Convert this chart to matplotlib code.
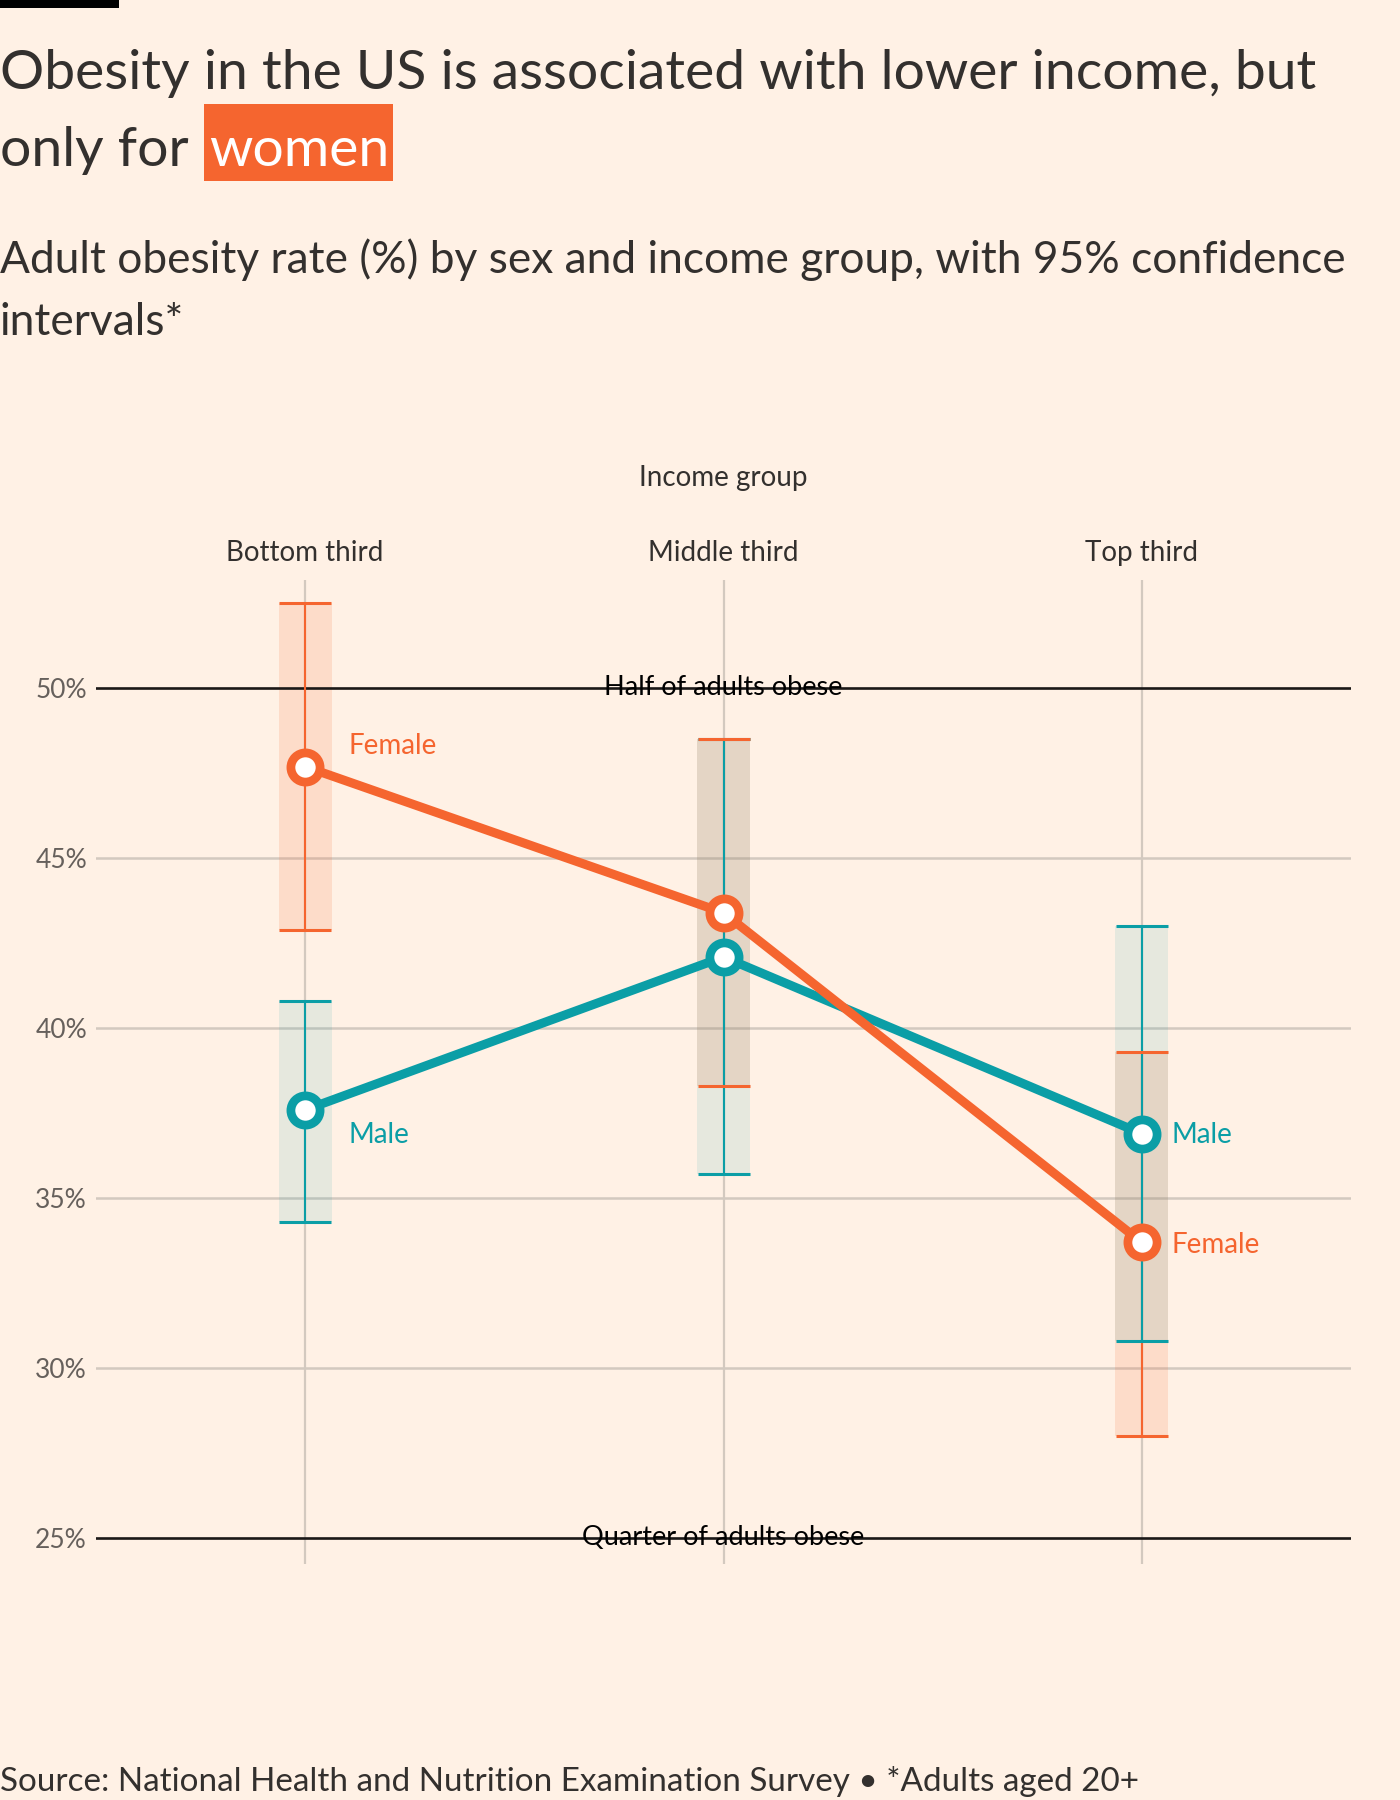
"""FT-style chart: US adult obesity rate by sex and income group, with 95% CIs."""

import matplotlib

matplotlib.use("Agg")
import matplotlib.pyplot as plt
from matplotlib.patches import Rectangle

# --- data -------------------------------------------------------------------
groups = ["Bottom third", "Middle third", "Top third"]
female = [47.7, 43.4, 33.7]
female_lo = [42.9, 38.3, 28.0]
female_hi = [52.5, 48.5, 39.3]
male = [37.6, 42.1, 36.9]
male_lo = [34.3, 35.7, 30.8]
male_hi = [40.8, 48.5, 43.0]
yticks = [25, 30, 35, 40, 45, 50]
ref_values = [50, 25]
ref_labels = ["Half of adults obese", "Quarter of adults obese"]

# --- style --------------------------------------------------------------------
PAPER = "#fff1e5"
INK = "#33302e"
MUTED = "#66605c"
GRID = "#d3c9bf"
ORANGE = "#f5652f"
TEAL = "#0b9ea6"
FONT = ["Lato", "DejaVu Sans"]

plt.rcParams["font.family"] = FONT

W, H = 1400, 1800
fig = plt.figure(figsize=(W / 100, H / 100), dpi=100, facecolor=PAPER)


def fx(px):
    return px / W


def fy(py):
    return 1 - py / H


# axes box in pixel terms: left 96, right 1351, top 580, bottom 1564
ax = fig.add_axes([fx(96), fy(1564), fx(1351 - 96), (1564 - 580) / H])
ax.set_facecolor(PAPER)
for s in ax.spines.values():
    s.set_visible(False)

x = list(range(len(groups)))
ax.set_xlim(-0.5, 2.5)
ax.set_ylim(24.24, 53.19)

# grid
for v in yticks:
    if v not in ref_values:
        ax.axhline(v, color=GRID, lw=1.8, zorder=1)
for xi in x:
    ax.axvline(xi, color=GRID, lw=1.6, zorder=1)

# CI bands
band_w = 0.126
ax.bar(x, [h - l for h, l in zip(female_hi, female_lo)], bottom=female_lo,
       width=band_w, color=ORANGE, alpha=0.15, lw=0, zorder=2)
ax.bar(x, [h - l for h, l in zip(male_hi, male_lo)], bottom=male_lo,
       width=band_w, color=TEAL, alpha=0.1, lw=0, zorder=2)

# reference lines
for v, lab in zip(ref_values, ref_labels):
    ax.axhline(v, color="#1a1817", lw=1.9, zorder=3)
    ax.annotate(lab, (1, v), xytext=(0, -5), textcoords="offset points",
                ha="center", va="baseline", fontsize=19.5, color="#000000",
                zorder=3.5)

# error bars (female drawn first, male whiskers over it, female caps on top)
f_err = ax.errorbar(x, female, yerr=[[f - l for f, l in zip(female, female_lo)],
                                     [h - f for f, h in zip(female, female_hi)]],
                    fmt="none", ecolor=ORANGE, elinewidth=1.5, capsize=19,
                    capthick=2.2, zorder=4)
m_err = ax.errorbar(x, male, yerr=[[m - l for m, l in zip(male, male_lo)],
                                   [h - m for m, h in zip(male, male_hi)]],
                    fmt="none", ecolor=TEAL, elinewidth=1.5, capsize=19,
                    capthick=2.2, zorder=4.2)
for cap in f_err[1]:
    cap.set_zorder(4.4)

# series
mk = dict(marker="o", markersize=21, markerfacecolor="white", markeredgewidth=6.3)
ax.plot(x, male, color=TEAL, lw=6.5, markeredgecolor=TEAL, zorder=5, **mk)
ax.plot(x, female, color=ORANGE, lw=6.5, markeredgecolor=ORANGE, zorder=6, **mk)

# direct labels
lab_kw = dict(textcoords="offset points", fontsize=20, ha="left", va="center")
ax.annotate("Female", (x[0], female[0]), xytext=(31, 15), color=ORANGE, **lab_kw)
ax.annotate("Male", (x[0], male[0]), xytext=(31, -18), color=TEAL, **lab_kw)
ax.annotate("Male", (x[2], male[2]), xytext=(21, -1), color=TEAL, **lab_kw)
ax.annotate("Female", (x[2], female[2]), xytext=(21, -2), color=ORANGE, **lab_kw)

# axes ticks
ax.set_yticks(yticks, [f"{v}%" for v in yticks])
ax.tick_params(axis="y", length=0, pad=6.5, labelsize=19, labelcolor=MUTED)
ax.xaxis.set_ticks_position("top")
ax.set_xticks(x, groups)
ax.tick_params(axis="x", length=0, pad=10, labelsize=20, labelcolor=INK)

fig.text(fx(723), fy(486), "Income group", ha="center", va="baseline",
         fontsize=20, color=INK)

# --- header / footer --------------------------------------------------------
fig.patches.append(Rectangle((0, fy(8)), fx(119), 8 / H, transform=fig.transFigure,
                             facecolor="black", edgecolor="none"))

t1 = fig.text(0, fy(89), "Obesity in the US is associated with lower income, but",
              fontsize=40, color=INK, va="baseline")
t2 = fig.text(0, fy(166), "only for", fontsize=40, color=INK, va="baseline")
s1 = fig.text(0, fy(273), "Adult obesity rate (%) by sex and income group, with 95% confidence",
              fontsize=30, color=INK, va="baseline")
s2 = fig.text(0, fy(335), "intervals*", fontsize=30, color=INK, va="baseline")
src = fig.text(0, fy(1791), "Source: National Health and Nutrition Examination Survey \u2022 *Adults aged 20+",
               fontsize=22, color=INK, va="baseline")

fig.canvas.draw()
r = fig.canvas.get_renderer()


def fit(txt, target_px):
    w = txt.get_window_extent(r).width
    txt.set_fontsize(txt.get_fontsize() * target_px / w)
    return txt.get_fontsize()


fs_title = fit(t1, 1316)
t2.set_fontsize(fs_title)
fs_sub = fit(s1, 1343)
s2.set_fontsize(fs_sub)
fit(src, 1136)

fig.canvas.draw()
end_for = t2.get_window_extent(r).x1
hl = fig.text(fx(end_for + 20), fy(166), "women", fontsize=fs_title, color="white",
              va="baseline", zorder=3)
fig.canvas.draw()
hl_box = hl.get_window_extent(r)
box_x0 = end_for + 15
box_x1 = hl_box.x1 + 4
fig.patches.append(Rectangle((fx(box_x0), fy(181)), fx(box_x1 - box_x0), (181 - 104) / H,
                             transform=fig.transFigure, facecolor=ORANGE,
                             edgecolor="none", zorder=1))

fig.savefig("out.png", dpi=100, facecolor=PAPER)
plt.close(fig)
